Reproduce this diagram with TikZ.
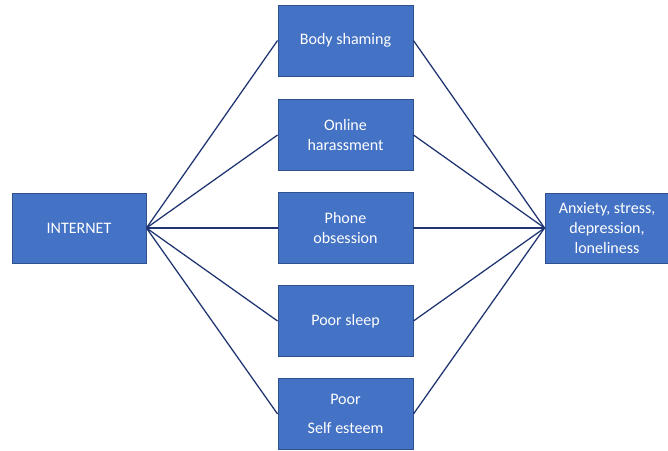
\documentclass[tikz,border=0pt]{standalone}
\usepackage{fontspec}
\setmainfont{Carlito}
\usetikzlibrary{positioning}
\definecolor{boxblue}{HTML}{4472C4}
\definecolor{boxedge}{HTML}{2F528F}
\definecolor{linknavy}{HTML}{1F3470}

\begin{document}
\begin{tikzpicture}[x=0.025cm,y=-0.025cm,
  box/.style={draw=boxedge,fill=boxblue,text=white,line width=0.6pt,
    minimum width=3.375cm,minimum height=1.775cm,align=center,
    font=\fontsize{11.4}{14}\selectfont},
  link/.style={linknavy,line width=0.9pt}]
  \useasboundingbox (0,0) rectangle (668,451);
  % cause and effects
  \node[box,minimum width=3.35cm,minimum height=1.75cm] (net) at (79,228) {INTERNET};
  \node[box] (body) at (345.5,40.5) {Body shaming};
  \node[box] (online) at (345.5,135) {Online\\harassment};
  \node[box] (phone) at (345.5,228) {Phone\\obsession};
  \node[box] (sleep) at (345.5,321) {Poor sleep};
  \node[box] (esteem) at (345.5,414) {Poor\\[7pt]Self esteem};
  \node[box,minimum width=3.1cm,minimum height=1.75cm] (mood) at (607,228)
    {Anxiety, stress,\\depression,\\loneliness};

  \foreach \n in {body,online,phone,sleep,esteem}{
    \draw[link] (net.east) -- (\n.west);
    \draw[link] (\n.east) -- (mood.west);
  }
\end{tikzpicture}
\end{document}
